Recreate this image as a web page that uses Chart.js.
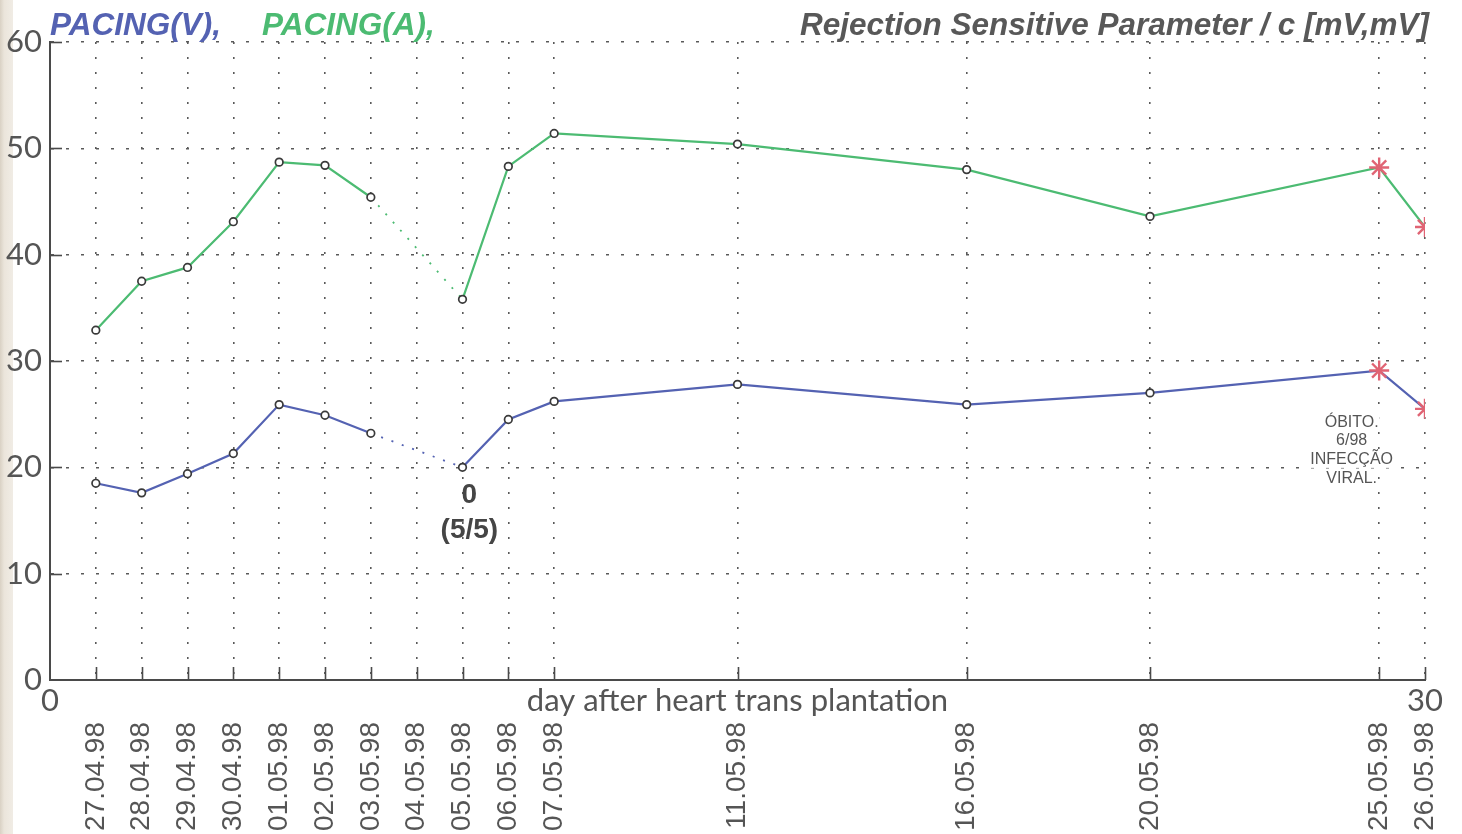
<!DOCTYPE html>
<html>
<head>
<meta charset="utf-8">
<title>Rejection Sensitive Parameter</title>
<script src="https://cdn.jsdelivr.net/npm/chart.js@4.4.1/dist/chart.umd.min.js"></script>
<style>
  html, body { margin: 0; padding: 0; background: #ffffff; }
  #wrap { position: relative; width: 1462px; height: 834px; }
</style>
</head>
<body>
<div id="wrap"><canvas id="chart"></canvas></div>
<script>
// Measurement days after the transplantation and their calendar dates
const days = [1, 2, 3, 4, 5, 6, 7, 8, 9, 10, 11, 15, 20, 24, 29, 30];
const dates = ['27.04.98', '28.04.98', '29.04.98', '30.04.98', '01.05.98', '02.05.98',
  '03.05.98', '04.05.98', '05.05.98', '06.05.98', '07.05.98', '11.05.98', '16.05.98',
  '20.05.98', '25.05.98', '26.05.98'];

// Parameter values [mV]; 04.05.98 has no measurement
const pacingV = [18.5, 17.6, 19.4, 21.3, 25.9, 24.9, 23.2, null, 20.0, 24.5, 26.2, 27.8, 25.9, 27.0, 29.1, 25.5];
const pacingA = [32.9, 37.5, 38.8, 43.1, 48.7, 48.4, 45.4, null, 35.8, 48.3, 51.4, 50.4, 48.0, 43.6, 48.2, 42.6];

// Last two measurements (after infection) are marked with red asterisks
const lastMarked = 2;

// Value axis ticks
const yTicks = [0, 10, 20, 30, 40, 50, 60];

// Labels along the day axis
const dayAxisLabels = { 0: '0', 15: 'day after heart trans plantation', 30: '30' };

// Notes written inside the plot
const notes = [
  { day: 9.15, value: 17.4, text: '0', bold: true, size: 28, bg: false },
  { day: 9.15, value: 14.1, text: '(5/5)', bold: true, size: 28, bg: false },
  { day: 28.4, value: 24.2, text: 'ÓBITO.', bold: false, size: 16, bg: true },
  { day: 28.4, value: 22.5, text: '6/98', bold: false, size: 16, bg: true },
  { day: 28.4, value: 20.7, text: 'INFECÇÃO', bold: false, size: 16, bg: true },
  { day: 28.4, value: 18.9, text: 'VIRAL.', bold: false, size: 16, bg: true }
];

const BLUE = '#5462b2';
const GREEN = '#4cbb72';
const RED = '#e06474';
const AXIS = '#4a4a4a';
const TEXT = '#555555';
const DOTS = '#5a5a5a';

function series(values) {
  return values.map((v, i) => ({ x: days[i], y: v }));
}
function isMarked(i) { return i >= days.length - lastMarked; }

function dataset(label, values, color) {
  return {
    label: label,
    data: series(values),
    xAxisID: 'x',
    yAxisID: 'y',
    borderColor: color,
    borderWidth: 2.2,
    spanGaps: true,
    tension: 0,
    clip: { left: 10, top: 10, right: 0, bottom: 10 },
    pointStyle: ctx => (isMarked(ctx.dataIndex) ? 'star' : 'circle'),
    pointRadius: ctx => (isMarked(ctx.dataIndex) ? 10 : 3.8),
    pointHoverRadius: ctx => (isMarked(ctx.dataIndex) ? 10 : 3.8),
    pointBorderColor: ctx => (isMarked(ctx.dataIndex) ? RED : '#3a3a3a'),
    pointBorderWidth: ctx => (isMarked(ctx.dataIndex) ? 2.4 : 1.7),
    pointBackgroundColor: '#ffffff',
    segment: {
      // the day without measurement is bridged by a dotted line
      borderDash: ctx => (ctx.p0.skip || ctx.p1.skip ? [2, 9] : undefined),
      borderWidth: ctx => (ctx.p0.skip || ctx.p1.skip ? 1.8 : undefined)
    }
  };
}

// Header, paper edge, inward tick marks and notes
const decorations = {
  id: 'decorations',
  beforeDraw(chart) {
    const ctx = chart.ctx;
    ctx.save();
    const g = ctx.createLinearGradient(0, 0, 14, 0);
    g.addColorStop(0, '#d9d1c4');
    g.addColorStop(0.3, '#ebe5db');
    g.addColorStop(1, '#f1ede6');
    ctx.fillStyle = g;
    ctx.fillRect(0, 0, 13, chart.height);
    ctx.restore();
  },
  afterDatasetsDraw(chart) {
    const ctx = chart.ctx;
    const xs = chart.scales.x, ys = chart.scales.y;
    const area = chart.chartArea;
    ctx.save();
    ctx.strokeStyle = AXIS;
    ctx.lineWidth = 1.6;
    days.forEach(d => {
      const px = Math.round(xs.getPixelForValue(d)) + 0.5;
      ctx.beginPath();
      ctx.moveTo(px, area.bottom);
      ctx.lineTo(px, area.bottom - 13);
      ctx.stroke();
    });
    yTicks.slice(1).forEach(v => {
      const py = Math.round(ys.getPixelForValue(v)) + 0.5;
      ctx.beginPath();
      ctx.moveTo(area.left, py);
      ctx.lineTo(area.left + 12, py);
      ctx.stroke();
    });
    notes.forEach(n => {
      const px = xs.getPixelForValue(n.day);
      const py = ys.getPixelForValue(n.value);
      ctx.font = (n.bold ? 'bold ' : '') + n.size + 'px "Liberation Sans", Arial, sans-serif';
      ctx.textAlign = 'center';
      ctx.textBaseline = 'middle';
      if (n.bg) {
        const w = ctx.measureText(n.text).width;
        ctx.fillStyle = '#ffffff';
        ctx.fillRect(px - w / 2 - 1, py - n.size * 0.5, w + 2, n.size);
      }
      ctx.fillStyle = n.bold ? '#454545' : TEXT;
      ctx.fillText(n.text, px, py);
    });
    ctx.restore();
  },
  afterDraw(chart) {
    const ctx = chart.ctx;
    ctx.save();
    ctx.font = 'italic bold 31.5px "Liberation Sans", Arial, sans-serif';
    ctx.textBaseline = 'alphabetic';
    ctx.textAlign = 'left';
    ctx.fillStyle = BLUE;
    ctx.fillText('PACING(V),', 50, 35);
    ctx.fillStyle = GREEN;
    ctx.fillText('PACING(A),', 262, 35);
    ctx.textAlign = 'right';
    ctx.fillStyle = '#585858';
    ctx.fillText('Rejection Sensitive Parameter / c [mV,mV]', 1429, 35);
    ctx.restore();
  }
};

new Chart(document.getElementById('chart'), {
  type: 'line',
  data: {
    datasets: [
      dataset('PACING(V)', pacingV, BLUE),
      dataset('PACING(A)', pacingA, GREEN)
    ]
  },
  options: {
    responsive: true,
    maintainAspectRatio: false,
    devicePixelRatio: 1,
    animation: false,
    layout: { padding: { top: 42, right: 37, left: 0, bottom: 0 } },
    plugins: { legend: { display: false }, tooltip: { enabled: false } },
    scales: {
      y: {
        type: 'linear',
        min: 0,
        max: 60,
        afterBuildTicks: s => { s.ticks = yTicks.map(v => ({ value: v })); },
        afterFit: s => { s.width = 50; },
        border: { display: true, color: AXIS, width: 2, dash: [3, 12] },
        grid: { color: DOTS, lineWidth: 1.6, drawTicks: false },
        ticks: {
          padding: 8,
          color: TEXT,
          font: { family: 'Lato, "Liberation Sans Narrow", sans-serif', size: 31, weight: 400 }
        }
      },
      x: {
        type: 'linear',
        position: 'bottom',
        weight: 1,
        min: 0,
        max: 30,
        afterBuildTicks: s => { s.ticks = days.map(v => ({ value: v })); },
        afterFit: s => { s.height = 114; },
        border: { display: false, dash: [2, 13] },
        grid: { color: DOTS, lineWidth: 1.6, drawTicks: false },
        ticks: {
          autoSkip: false,
          minRotation: 90,
          maxRotation: 90,
          padding: 2,
          color: TEXT,
          font: { family: '"Liberation Sans", Arial, sans-serif', size: 28 },
          callback: v => dates[days.indexOf(v)]
        }
      },
      x0: {
        type: 'linear',
        position: 'bottom',
        weight: 0,
        min: 0,
        max: 30,
        afterBuildTicks: s => { s.ticks = Object.keys(dayAxisLabels).map(v => ({ value: +v })); },
        afterFit: s => { s.height = 40; },
        border: { display: true, color: AXIS, width: 2 },
        grid: { display: false, drawTicks: false },
        ticks: {
          autoSkip: false,
          maxRotation: 0,
          minRotation: 0,
          padding: 2,
          color: TEXT,
          font: { family: 'Lato, sans-serif', size: 31, weight: 400 },
          callback: v => dayAxisLabels[v]
        }
      }
    }
  },
  plugins: [decorations]
});
</script>
</body>
</html>
